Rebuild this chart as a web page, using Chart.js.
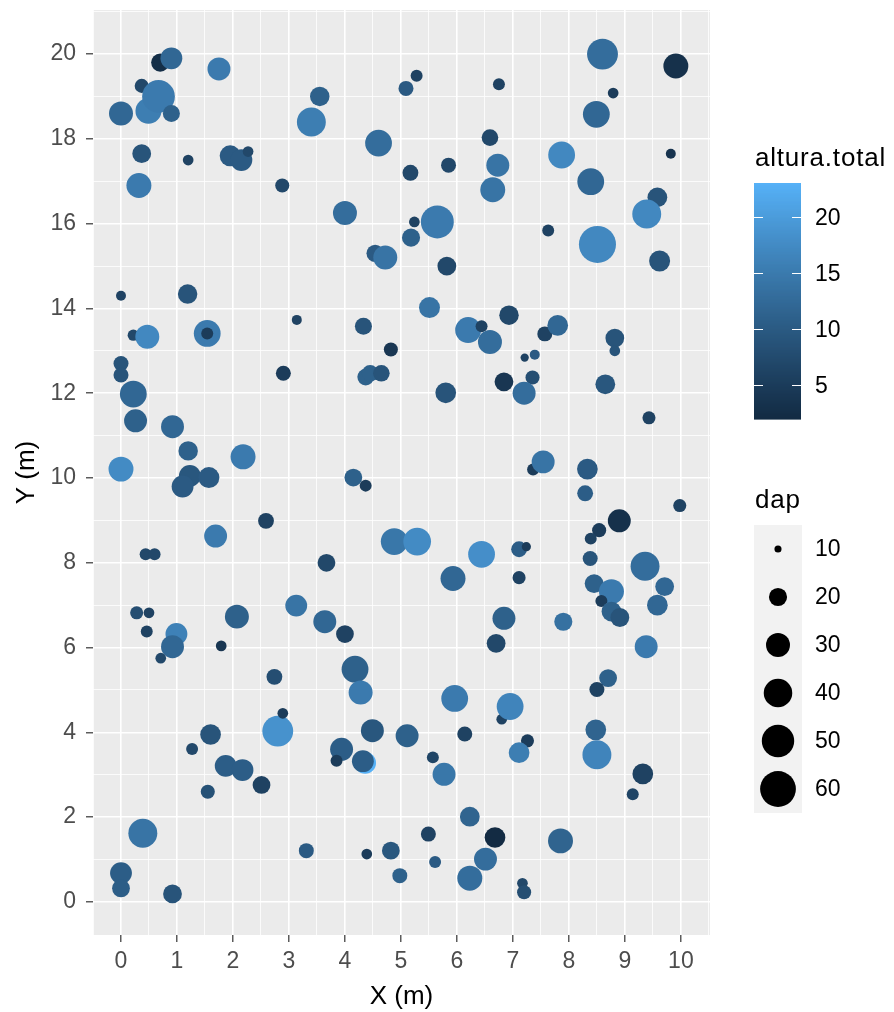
<!DOCTYPE html>
<html>
<head>
<meta charset="utf-8">
<script src="https://cdn.jsdelivr.net/npm/chart.js@4/dist/chart.umd.min.js"></script>
<style>
  html, body { margin: 0; padding: 0; background: #ffffff; }
  canvas { display: block; }
</style>
</head>
<body>
<canvas id="c" width="894" height="1012"></canvas>
<script>
// Tree positions in the plot (m), diameter (dap) and total height (altura.total)
const posX = [
  0.00, 0.70, 0.90, 0.37, 0.49, 0.67, 0.90, 1.75, 3.55, 3.40,
  4.60, 0.37, 1.20, 1.95, 2.15, 2.27, 0.32, 2.88, 4.00, 4.54,
  4.72, 0.00, 1.19, 5.09, 5.28, 6.75, 8.60, 9.91, 8.79, 8.49,
  6.59, 9.82, 7.87, 6.73, 5.85, 5.17, 8.39, 6.64, 9.58, 9.39,
  5.65, 5.24, 5.18, 7.63, 8.51, 5.82, 9.62, 5.51, 6.93, 3.14,
  4.33, 0.22, 0.47, 1.54, 1.54, 4.82, 0.00, 0.00, 2.90, 4.37,
  4.45, 4.65, 0.22, 0.26, 0.92, 1.20, 2.18, 0.00, 1.23, 1.10,
  1.57, 4.15, 4.37, 2.59, 1.69, 4.88, 5.29, 0.44, 0.60, 3.67,
  0.28, 0.50, 2.07, 3.13, 3.64, 4.00, 6.20, 6.44, 6.59, 7.57,
  7.80, 8.82, 8.82, 7.21, 7.39, 6.84, 7.35, 7.20, 5.80, 8.65,
  9.43, 7.36, 7.54, 8.33, 8.29, 9.98, 8.90, 8.54, 8.39, 6.44,
  7.11, 7.24, 8.38, 9.36, 5.93, 7.11, 8.45, 8.76, 9.71, 8.58,
  9.58, 8.76, 8.91, 6.84, 7.90, 0.46, 0.99, 0.92, 0.71, 1.79,
  2.74, 2.80, 2.89, 1.60, 1.27, 1.87, 2.17, 2.51, 1.55, 4.18,
  4.28, 3.94, 3.85, 4.36, 4.32, 4.49, 5.11, 0.39, 0.00, 0.00,
  0.92, 3.31, 4.39, 4.82, 4.98, 6.70, 9.38, 8.70, 8.50, 5.96,
  6.80, 6.95, 8.48, 6.14, 7.26, 7.11, 8.50, 5.57, 5.77, 9.32,
  9.14, 6.23, 5.49, 6.68, 7.85, 5.61, 6.51, 6.23, 7.17, 7.20
];
const posY = [
  18.60, 19.80, 19.90, 19.25, 18.66, 19.00, 18.60, 19.65, 19.00, 18.40,
  17.90, 17.65, 17.50, 17.60, 17.50, 17.70, 16.90, 16.90, 16.25, 15.30,
  15.20, 14.30, 14.34, 19.19, 19.49, 19.29, 20.00, 19.72, 19.08, 18.58,
  18.03, 17.65, 17.62, 17.38, 17.38, 17.20, 16.99, 16.80, 16.62, 16.23,
  16.04, 16.04, 15.67, 15.84, 15.51, 15.00, 15.12, 14.02, 13.84, 13.73,
  13.58, 13.37, 13.33, 13.41, 13.41, 13.03, 12.70, 12.43, 12.47, 12.38,
  12.47, 12.47, 11.98, 11.35, 11.21, 10.64, 10.50, 10.21, 10.05, 9.80,
  10.01, 10.01, 9.82, 8.99, 8.63, 8.50, 8.50, 8.20, 8.20, 8.00,
  6.82, 6.82, 6.73, 6.99, 6.61, 6.32, 13.49, 13.58, 13.21, 13.40,
  13.60, 13.30, 13.00, 12.84, 12.91, 12.27, 12.37, 12.00, 12.01, 12.21,
  11.42, 10.20, 10.38, 10.21, 9.64, 9.35, 8.99, 8.77, 8.57, 8.20,
  8.32, 8.38, 8.10, 7.92, 7.63, 7.65, 7.51, 7.32, 7.44, 7.10,
  7.00, 6.85, 6.71, 6.69, 6.61, 6.38, 6.32, 6.02, 5.75, 6.04,
  5.31, 4.03, 4.45, 3.95, 3.61, 3.21, 3.11, 2.76, 2.60, 5.49,
  4.94, 3.60, 3.33, 3.28, 3.32, 4.04, 3.92, 1.62, 0.68, 0.32,
  0.19, 1.21, 1.13, 1.21, 0.62, 6.10, 6.02, 5.28, 5.01, 4.80,
  4.31, 4.61, 4.06, 3.96, 3.80, 3.52, 3.47, 3.41, 3.01, 3.02,
  2.54, 2.01, 1.60, 1.52, 1.44, 0.94, 1.01, 0.56, 0.44, 0.23
];
const dap = [
  30, 20, 26, 15, 34, 51, 18.5, 28, 22, 41,
  36, 21, 12, 24.5, 26, 12, 32, 15, 30, 19,
  30, 11.5, 22, 16, 13, 13, 46, 32, 12, 36,
  18, 11.5, 36, 28, 16, 17, 36, 32, 22.5, 41,
  51.5, 12, 20, 13, 64, 21, 24.5, 24.5, 22, 11.5,
  18.5, 12.5, 30, 36, 13, 15, 16, 16, 16, 18,
  18, 18, 36, 28, 28, 22, 32, 32, 26, 26,
  24.5, 19.5, 13, 17, 28, 36, 38, 13, 13, 19.5,
  14, 12, 30, 26, 28, 19.5, 34, 13, 30, 16,
  24, 21, 12, 10.5, 11.5, 21, 15, 28, 24, 22.5,
  14, 13, 28, 24, 17, 14, 28, 15, 13, 36,
  17, 11, 16, 41, 32, 14, 21, 32, 21, 13,
  24, 22.5, 21, 28, 20, 13, 26, 28, 12, 12,
  17, 46, 12, 24, 13, 26, 26, 19.5, 15, 36,
  30, 28, 13, 26, 26, 28, 28, 41, 26, 19.5,
  21, 16, 12, 19.5, 16, 21, 28, 19.5, 16, 36,
  12, 36, 24, 16, 14, 24, 41, 13, 28, 24,
  13, 22.5, 16, 24, 32, 13, 28, 32, 12, 15
];
const alturaTotal = [
  12, 2.5, 12, 7, 15.5, 15, 11, 15, 11, 15.5,
  13, 9, 6, 10, 10, 7, 15, 7, 13, 10,
  14, 6, 9, 10, 6, 6, 13, 3, 5, 12,
  7, 3.5, 17, 14, 7, 7, 12, 14, 9, 17,
  15, 6, 11, 6, 17, 7, 9, 14, 7, 6,
  9, 7, 17, 15, 5, 4, 9, 9, 5, 11,
  11, 9, 12, 11, 12, 11, 15, 17.5, 9.5, 10,
  10, 11, 5, 6, 15, 14.5, 17.5, 7, 7, 7,
  8, 6, 11, 14, 12, 6, 15, 6, 13, 6,
  12, 9, 9, 6, 10, 4, 8, 13, 9, 9.5,
  6, 5, 14, 10, 10.5, 6, 3, 5, 6, 18,
  10.5, 5, 9, 13, 12, 6, 11, 15, 12, 5,
  12, 11, 9, 11, 13.5, 6, 16, 12, 7, 4,
  8, 18.5, 5, 9, 7, 10.5, 10.5, 6, 8.5, 11,
  15, 10.5, 5, 23, 10.5, 9.5, 11, 14, 10.5, 10.5,
  9, 10, 5, 9.5, 11, 7, 15, 11, 6, 15,
  6, 16.5, 11.5, 6, 5, 15.5, 16.5, 6.5, 14.5, 6,
  6.5, 11.5, 6, 2, 11.5, 10, 13, 13, 7, 8
];

// Legend breaks and axis labels
const alturaBreaks = [5, 10, 15, 20];
const dapBreaks = [10, 20, 30, 40, 50, 60];
const xTickLabels = [0, 1, 2, 3, 4, 5, 6, 7, 8, 9, 10];
const yTickLabels = [0, 2, 4, 6, 8, 10, 12, 14, 16, 18, 20];

// ---- colour scale: Lab interpolation between two blues ----
const LOW = '#132B43', HIGH = '#56B1F7';
const alturaMin = Math.min(...alturaTotal), alturaMax = Math.max(...alturaTotal);
const WX = 0.95047, WY = 1.0, WZ = 1.08883;
function hexToLab(hex) {
  const v = [1, 3, 5].map(i => parseInt(hex.substr(i, 2), 16) / 255)
    .map(c => c <= 0.04045 ? c / 12.92 : Math.pow((c + 0.055) / 1.055, 2.4));
  const X = (0.4124564 * v[0] + 0.3575761 * v[1] + 0.1804375 * v[2]) / WX;
  const Y = (0.2126729 * v[0] + 0.7151522 * v[1] + 0.0721750 * v[2]) / WY;
  const Z = (0.0193339 * v[0] + 0.1191920 * v[1] + 0.9503041 * v[2]) / WZ;
  const f = t => t > 0.008856 ? Math.cbrt(t) : 7.787 * t + 16 / 116;
  const fx = f(X), fy = f(Y), fz = f(Z);
  return [116 * fy - 16, 500 * (fx - fy), 200 * (fy - fz)];
}
function labToRgb(L, a, b) {
  const fy = (L + 16) / 116, fx = fy + a / 500, fz = fy - b / 200;
  const inv = t => { const t3 = t * t * t; return t3 > 0.008856 ? t3 : (t - 16 / 116) / 7.787; };
  const X = WX * inv(fx), Y = WY * inv(fy), Z = WZ * inv(fz);
  const lin = [
    3.2404542 * X - 1.5371385 * Y - 0.4985314 * Z,
    -0.9692660 * X + 1.8760108 * Y + 0.0415560 * Z,
    0.0556434 * X - 0.2040259 * Y + 1.0572252 * Z
  ];
  return lin.map(c => {
    const s = c <= 0.0031308 ? 12.92 * c : 1.055 * Math.pow(c, 1 / 2.4) - 0.055;
    return Math.round(Math.min(1, Math.max(0, s)) * 255);
  });
}
const labLow = hexToLab(LOW), labHigh = hexToLab(HIGH);
function alturaColour(v) {
  const t = Math.min(1, Math.max(0, (v - alturaMin) / (alturaMax - alturaMin)));
  const lab = labLow.map((c, i) => c + (labHigh[i] - c) * t);
  const rgb = labToRgb(lab[0], lab[1], lab[2]);
  return `rgb(${rgb[0]},${rgb[1]},${rgb[2]})`;
}

// ---- size scale: dap -> point radius (px) ----
function dapRadius(d) {
  return (3 + 4.6 * Math.sqrt(Math.max(d - 9.2, 0))) / 2;
}

const points = posX.map((x, i) => ({ x: x, y: posY[i] }));
const FONT = '"Liberation Sans", Arial, sans-serif';
const TICK_SIZE = 23, TITLE_SIZE = 26;

const panelBackground = {
  id: 'panelBackground',
  beforeDraw(chart) {
    const { ctx, chartArea: a } = chart;
    ctx.save();
    ctx.fillStyle = '#EBEBEB';
    ctx.fillRect(a.left, a.top, a.right - a.left, a.bottom - a.top);
    ctx.restore();
  }
};

// Colour bar and size key on the right
const sideLegends = {
  id: 'sideLegends',
  afterDraw(chart) {
    const ctx = chart.ctx;
    ctx.save();
    ctx.fillStyle = '#000000';
    ctx.textAlign = 'left';
    ctx.textBaseline = 'alphabetic';
    ctx.font = TITLE_SIZE + 'px ' + FONT;
    if ('letterSpacing' in ctx) ctx.letterSpacing = '0.8px';
    ctx.fillText('altura.total', 755, 166);
    ctx.fillText('dap', 755, 508);
    if ('letterSpacing' in ctx) ctx.letterSpacing = '0px';

    // colour bar
    const bx = 754, bw = 47, bTop = 183, bBottom = 419;
    const yOf = v => bBottom - (v - alturaMin) / (alturaMax - alturaMin) * (bBottom - bTop);
    const steps = 236;
    for (let i = 0; i < steps; i++) {
      const v0 = alturaMin + (alturaMax - alturaMin) * i / steps;
      const y1 = yOf(v0), y0 = yOf(alturaMin + (alturaMax - alturaMin) * (i + 1) / steps);
      ctx.fillStyle = alturaColour(v0 + (alturaMax - alturaMin) / steps / 2);
      ctx.fillRect(bx, y0, bw, y1 - y0 + 0.6);
    }
    ctx.strokeStyle = '#FFFFFF';
    ctx.lineWidth = 1.2;
    ctx.font = TICK_SIZE + 'px ' + FONT;
    ctx.textBaseline = 'middle';
    alturaBreaks.forEach(v => {
      const y = Math.round(yOf(v)) + 0.5;
      ctx.beginPath();
      ctx.moveTo(bx, y); ctx.lineTo(bx + 9, y);
      ctx.moveTo(bx + bw - 9, y); ctx.lineTo(bx + bw, y);
      ctx.stroke();
      ctx.fillStyle = '#000000';
      ctx.fillText(String(v), 815, y + 1);
    });

    // size key
    const kTop = 525, kH = 48, kx = 754, kw = 48;
    ctx.fillStyle = '#F2F2F2';
    ctx.fillRect(kx, kTop, kw, kH * dapBreaks.length);
    dapBreaks.forEach((d, i) => {
      const cy = kTop + kH * i + kH / 2;
      ctx.fillStyle = '#000000';
      ctx.beginPath();
      ctx.arc(kx + kw / 2, cy, dapRadius(d), 0, Math.PI * 2);
      ctx.fill();
      ctx.fillText(String(d), 815, cy + 1);
    });
    ctx.restore();
  }
};

const isMajorX = v => Math.abs(v - Math.round(v)) < 1e-6;
const isMajorY = v => Math.abs(v / 2 - Math.round(v / 2)) < 1e-6;

new Chart(document.getElementById('c'), {
  type: 'scatter',
  data: {
    datasets: [{
      data: points,
      backgroundColor: alturaTotal.map(alturaColour),
      borderWidth: 0,
      pointRadius: dap.map(dapRadius),
      pointHoverRadius: dap.map(dapRadius),
      pointStyle: 'circle'
    }]
  },
  options: {
    responsive: false,
    animation: false,
    events: [],
    layout: { autoPadding: false, padding: { left: 0, top: 10, right: 184, bottom: 0 } },
    plugins: { legend: { display: false }, tooltip: { enabled: false } },
    scales: {
      x: {
        type: 'linear',
        min: -0.5, max: 10.52,
        afterFit(s) { s.height = 77; s.paddingLeft = 0; s.paddingRight = 0; },
        border: { display: false },
        grid: {
          color: '#FFFFFF',
          lineWidth: c => isMajorX(c.tick.value) ? 1.6 : 0.8,
          tickColor: c => isMajorX(c.tick.value) ? '#333333' : 'rgba(0,0,0,0)',
          tickLength: 7,
          tickWidth: 1.2
        },
        ticks: {
          stepSize: 0.5,
          includeBounds: false,
          autoSkip: false,
          maxRotation: 0,
          padding: 6,
          color: '#4D4D4D',
          font: { family: FONT, size: TICK_SIZE },
          callback: v => xTickLabels.includes(v) ? String(v) : ''
        },
        title: {
          display: true,
          text: 'X (m)',
          color: '#000000',
          font: { family: FONT, size: TITLE_SIZE },
          padding: { top: 0, bottom: 0 }
        }
      },
      y: {
        type: 'linear',
        min: -0.78, max: 21.04,
        afterFit(s) { s.width = 93; s.paddingTop = 0; s.paddingBottom = 0; },
        border: { display: false },
        grid: {
          color: '#FFFFFF',
          lineWidth: c => isMajorY(c.tick.value) ? 1.6 : 0.8,
          tickColor: c => isMajorY(c.tick.value) ? '#333333' : 'rgba(0,0,0,0)',
          tickLength: 7,
          tickWidth: 1.2
        },
        ticks: {
          stepSize: 1,
          includeBounds: false,
          autoSkip: false,
          padding: 10,
          color: '#4D4D4D',
          font: { family: FONT, size: TICK_SIZE },
          callback: v => yTickLabels.includes(v) ? String(v) : ''
        },
        title: {
          display: true,
          text: 'Y (m)',
          color: '#000000',
          font: { family: FONT, size: TITLE_SIZE },
          padding: { top: 11, bottom: 0 }
        }
      }
    }
  },
  plugins: [panelBackground, sideLegends]
});
</script>
</body>
</html>
